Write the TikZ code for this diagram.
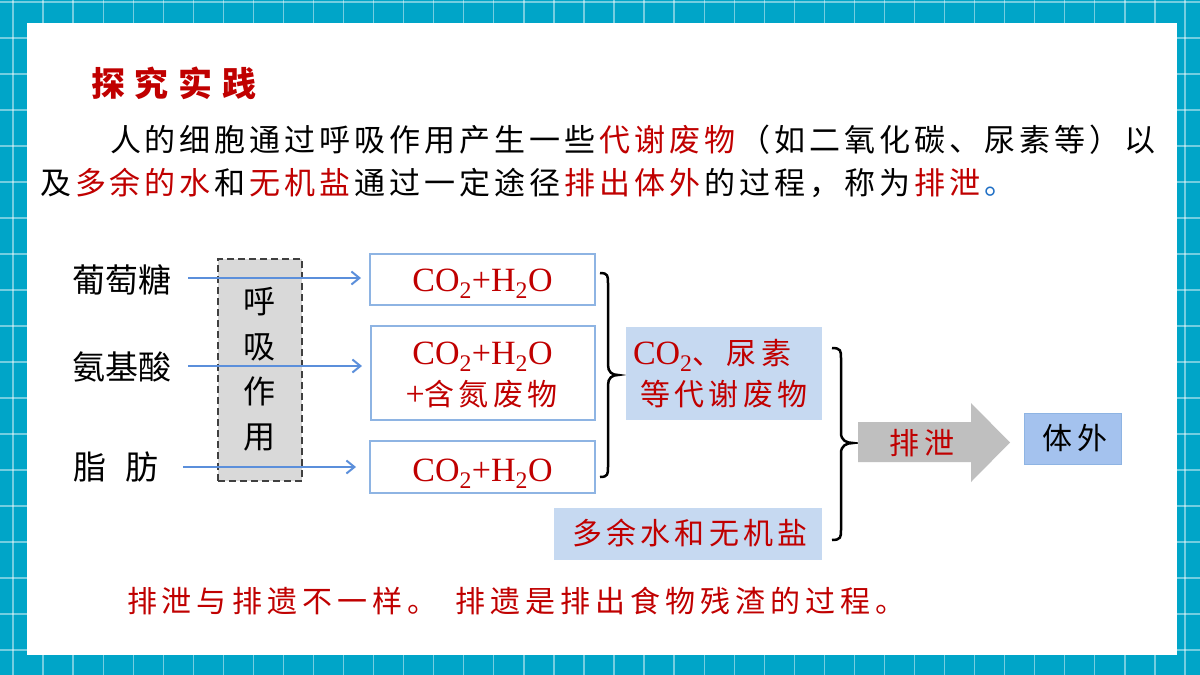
\documentclass[tikz,border=0pt]{standalone}
\usepackage{fontspec}
\setmainfont{Liberation Serif}
\newfontfamily\cjkT[LetterSpace=29]{Noto Sans CJK SC}
\newfontfamily\cjkP[LetterSpace=12.9]{Noto Sans CJK SC}
\newfontfamily\cjkN[LetterSpace=16.7]{Noto Sans CJK SC}
\newfontfamily\cjkB[LetterSpace=14]{Noto Sans CJK SC}
\newfontfamily\cjkL{Noto Sans CJK SC}
\newfontfamily\cjkV{Noto Sans CJK SC}
\newcommand\lsk{\hspace{4pt}}
\usetikzlibrary{arrows.meta}
\definecolor{kred}{HTML}{C00000}
\definecolor{tealbg}{HTML}{00A5C8}
\definecolor{abl}{HTML}{5B8FDB}
\definecolor{bbd}{HTML}{8EB4E3}
\definecolor{lbl}{HTML}{C6D9F1}
\definecolor{mbl}{HTML}{A4C2EE}
\definecolor{gbox}{HTML}{D9D9D9}
\definecolor{dgray}{HTML}{404040}
\definecolor{garr}{HTML}{BFBFBF}
\definecolor{dotb}{HTML}{1F6FC5}
\tikzset{
  gridl/.style={draw=white, draw opacity=0.45, line width=1.3pt},
  txt/.style={inner sep=0pt, outer sep=0pt},
  obox/.style={draw=bbd, line width=2pt, fill=white, inner sep=0pt},
  fbox/.style={fill=lbl, inner sep=0pt},
  barrow/.style={draw=abl, line width=2pt, -{Straight Barb[length=8pt,width=13pt,line width=2pt]}},
  brc/.style={draw=black, line width=2.5pt},
  chem/.style={txt, text=kred, font=\fontsize{34}{40}\selectfont},
  redcjk/.style={txt, text=kred, font={\cjkB\fontsize{30}{36}\selectfont}},
  lab/.style={txt, text=black, font={\cjkL\fontsize{33}{38}\selectfont}}
}
\begin{document}
\begin{tikzpicture}[x=1pt,y=-1pt]
\useasboundingbox (0,0) rectangle (1200,675);
% background grid
\fill[tealbg] (0,0) rectangle (1200,675);
\foreach \k in {0,...,39} \draw[gridl] ({13+30.05*\k},0) -- ++(0,675);
\foreach \k in {0,...,18} \draw[gridl] (0,{2+36*\k}) -- ++(1200,0);
\fill[white] (27,23) rectangle (1177,655);

% title and paragraph
\node[txt, anchor=base west, text=kred, font={\cjkT\bfseries\fontsize{34}{40}\selectfont}] (title) at (91,96) {探究实践};
\node[txt, anchor=base west, font={\cjkP\fontsize{31}{36}\selectfont}] (para1) at (110,151.8)
  {人的细胞通过呼吸作用产生一些\lsk\textcolor{kred}{代谢废物}\lsk（如二氧化碳、尿素等）以};
\node[txt, anchor=base west, font={\cjkP\fontsize{31}{36}\selectfont}] (para2) at (40,194.8)
  {及\lsk\textcolor{kred}{多余的水}\lsk 和\lsk\textcolor{kred}{无机盐}\lsk 通过一定途径\lsk\textcolor{kred}{排出体外}\lsk 的过程，称为\lsk\textcolor{kred}{排泄}\lsk\textcolor{dotb}{。}};

% respiration box
\node[draw=dgray, dash pattern=on 7pt off 4pt, line width=2.5pt, fill=gbox, minimum width=84pt, minimum height=222pt, inner sep=0pt] (resp) at (260,370) {};
\node[txt, align=center, font={\cjkV\fontsize{32}{45}\selectfont}] (resptxt) at (259,369) {呼\\吸\\作\\用};

% left labels
\node[lab, anchor=base west] (glu) at (72,292.5) {葡萄糖};
\node[lab, anchor=base west] (ami) at (72,379.5) {氨基酸};
\node[lab, anchor=base west] (fat) at (73,479.5) {脂 \hspace{12pt}肪};

% product boxes
\node[obox, minimum width=225pt, minimum height=51pt] (b1) at (482.5,279) {};
\node[obox, minimum width=224pt, minimum height=94pt] (b2) at (483,373) {};
\node[obox, minimum width=225pt, minimum height=52pt] (b3) at (482.5,467) {};
\node[chem, anchor=base] (b1t) at (482.5,291) {CO\textsubscript{2}+H\textsubscript{2}O};
\node[chem, anchor=base] (b2t1) at (482.5,364) {CO\textsubscript{2}+H\textsubscript{2}O};
\node[chem, anchor=base] (b2t2) at (481.5,405.4) {+{\cjkB\fontsize{30}{36}\selectfont 含氮废物}};
\node[chem, anchor=base] (b3t) at (482.5,481) {CO\textsubscript{2}+H\textsubscript{2}O};

% arrows
\coordinate (a1) at (188,278);
\coordinate (a2) at (188,366);
\coordinate (a3) at (183,467);
\draw[barrow, shorten >=8pt] (a1) -- (b1.west |- a1);
\draw[barrow, shorten >=8pt] (a2) -- (b2.west |- a2);
\draw[barrow, shorten >=13pt] (a3) -- (b3.west |- a3);

% brace 1
\draw[brc] (600,273) .. controls (608,273) and (608,276) .. (608,283) -- (608,365)
  .. controls (608,372) and (612,375) .. (618,375)
  .. controls (612,375) and (608,378) .. (608,385) -- (608,467)
  .. controls (608,474) and (608,477) .. (600,477);

% waste box
\node[fbox, minimum width=196pt, minimum height=93pt] (wst) at (724,373.5) {};
\node[txt, anchor=base west, text=kred] (wst1) at (633,364)
  {{\fontsize{34}{40}\selectfont CO\textsubscript{2}}{\cjkB\fontsize{30}{36}\selectfont 、尿素}};
\node[redcjk, anchor=base] (wst2) at (724,405) {等代谢废物};

% salt box
\node[fbox, minimum width=268pt, minimum height=52pt] (salt) at (688,534) {};
\node[redcjk, anchor=base] (saltt) at (690,544) {多余水和无机盐};

% brace 2
\draw[brc] (832,348) .. controls (841,348) and (841,351) .. (841,358) -- (841,433)
  .. controls (841,440) and (846,443) .. (853,443)
  .. controls (846,443) and (841,446) .. (841,453) -- (841,530)
  .. controls (841,537) and (841,540) .. (832,540);

% big arrow
\fill[garr] (858,422) -- (971,422) -- (971,403) -- (1010,442.5) -- (971,482) -- (971,462) -- (858,462) -- cycle;
\node[redcjk, anchor=base] (exc) at (922,454) {排泄};

% body outside
\node[draw=bbd, line width=1pt, fill=mbl, minimum width=97pt, minimum height=51pt, inner sep=0pt] (body) at (1073,439) {};
\node[txt, anchor=base, text=black, font={\cjkB\fontsize{30}{36}\selectfont}] (bodyt) at (1075,449) {体外};

% note
\node[txt, anchor=base west, text=kred, font={\cjkN\fontsize{30}{36}\selectfont}] (note) at (127,612.4)
  {排泄与排遗不一样。 \hspace{7pt}排遗是排出食物残渣的过程。};
\end{tikzpicture}
\end{document}
